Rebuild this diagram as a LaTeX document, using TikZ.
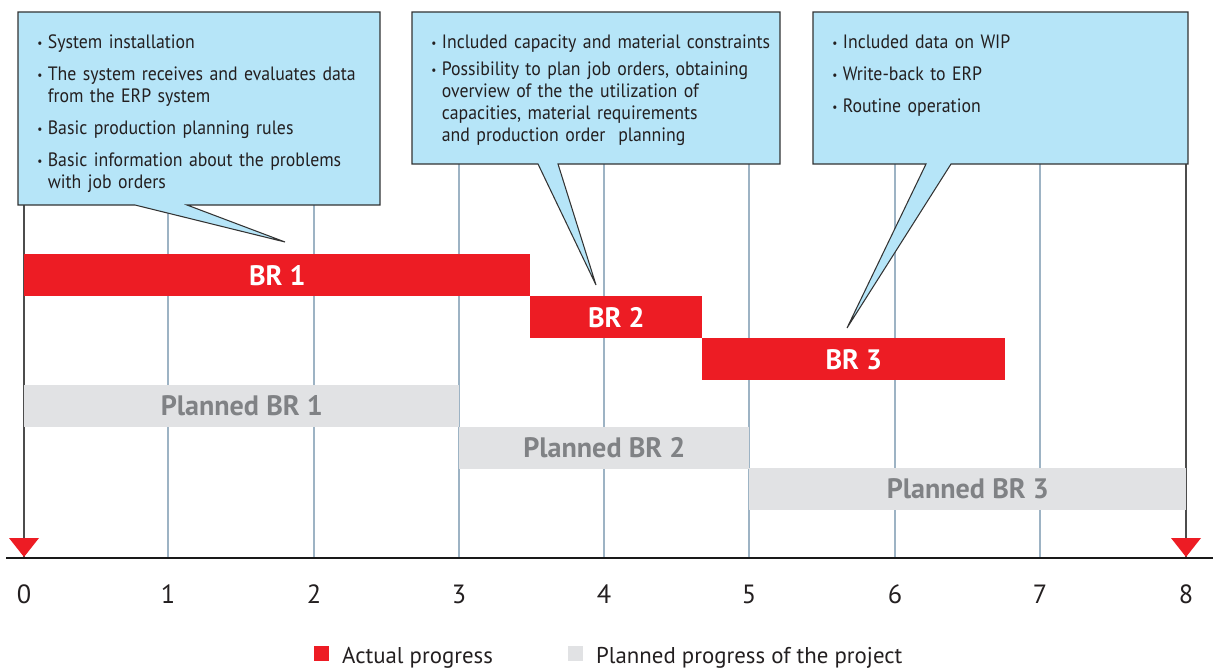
\documentclass[tikz,border=0pt]{standalone}
\usepackage{fontspec}
\setmainfont{PT Sans}
\newfontfamily\callfont[FakeStretch=0.92]{PT Sans}
\usepackage{tikz}
\usetikzlibrary{positioning}

\definecolor{brred}{HTML}{ED1C24}
\definecolor{plangray}{HTML}{E1E2E4}
\definecolor{plantext}{HTML}{808285}
\definecolor{calloutblue}{HTML}{B6E5F8}
\definecolor{gridblue}{HTML}{9DB3C4}
\definecolor{inkgray}{HTML}{231F20}

\newlength{\itemgap}
\newcommand{\bitem}[1]{\par\hangindent=0.21cm\hangafter=1\noindent\makebox[0.21cm][l]{\raisebox{0.5pt}{\scriptsize\textbullet}}#1\par}
\newcommand{\bgap}{\vspace{\itemgap}}

\tikzset{
  actual/.style={fill=brred, text=white, font=\bfseries\fontsize{16}{18}\selectfont, inner sep=0pt, anchor=north west, minimum height=0.84cm},
  planned/.style={fill=plangray, text=plantext, font=\bfseries\fontsize{16}{18}\selectfont, inner sep=0pt, anchor=north west, minimum height=0.83cm},
  callout/.style={draw=black!80, fill=calloutblue, line width=0.6pt, line join=miter},
  callouttext/.style={anchor=north west, inner sep=0pt, text width=8cm, text=inkgray, font=\callfont\fontsize{11}{12.5}\selectfont\raggedright},
  gridline/.style={draw=gridblue, line width=0.6pt},
  edgeline/.style={draw=black!70, line width=0.6pt},
  tick/.style={text=inkgray, font=\fontsize{15}{18}\selectfont},
  legend/.style={text=inkgray, font=\fontsize{13}{15}\selectfont, inner sep=0pt}
}

\begin{document}
\begin{tikzpicture}[x=0.02cm, y=-0.02cm]
\useasboundingbox (0,0) rectangle (1213,669);

% Grid
\draw[gridline] (168,12) -- (168,558);
\draw[gridline] (314,12) -- (314,558);
\draw[gridline] (459,12) -- (459,558);
\draw[gridline] (604,12) -- (604,558);
\draw[gridline] (749,12) -- (749,558);
\draw[gridline] (895,12) -- (895,558);
\draw[gridline] (1040,12) -- (1040,558);
\draw[edgeline] (24,205) -- (24,558);
\draw[edgeline] (1186,160) -- (1186,558);

% Actual progress
\node[actual, minimum width=10.12cm] (br1) at (24,254) {BR 1};
\node[actual, minimum width=3.44cm] (br2) at (530,296) {BR 2};
\node[actual, minimum width=6.06cm] (br3) at (702,338) {BR 3};

% Planned progress
\node[planned, minimum width=8.70cm] (plan1) at (24,385) {Planned BR 1};
\node[planned, minimum width=5.80cm] (plan2) at (459,427) {Planned BR 2};
\node[planned, minimum width=8.74cm] (plan3) at (749,468) {Planned BR 3};

% Time axis
\draw[black!90, line width=1.1pt] (6,558) -- (1213,558);
\fill[brred] (9,538) -- (39,538) -- (24,557) -- cycle;
\fill[brred] (1171,538) -- (1201,538) -- (1186,557) -- cycle;
\node[tick] (t0) at (24,594) {0};
\node[tick] (t1) at (168,594) {1};
\node[tick] (t2) at (314,594) {2};
\node[tick] (t3) at (459,594) {3};
\node[tick] (t4) at (604,594) {4};
\node[tick] (t5) at (749,594) {5};
\node[tick] (t6) at (895,594) {6};
\node[tick] (t7) at (1040,594) {7};
\node[tick] (t8) at (1186,594) {8};

% Callouts
\draw[callout] (18,12) -- (380,12) -- (380,205) -- (187,205) -- (285,242) -- (135,205) -- (18,205) -- cycle;
\node[callouttext] (c1) at (37,26) {\setlength{\itemgap}{5.7pt}%
\bitem{System installation}\bgap
\bitem{The system receives and evaluates data\newline from the ERP system}\bgap
\bitem{Basic production planning rules}\bgap
\bitem{Basic information about the problems\newline with job orders}};

\draw[callout] (412,12) -- (780,12) -- (780,164) -- (558,164) -- (596,285) -- (538,164) -- (412,164) -- cycle;
\node[callouttext] (c2) at (431,26) {\setlength{\itemgap}{2.9pt}%
\bitem{Included capacity and material constraints}\bgap
\bitem{Possibility to plan job orders, obtaining\newline overview of the the utilization of\newline capacities, material requirements\newline and production order\ \ planning}};

\draw[callout] (813,12) -- (1188,12) -- (1188,164) -- (951,164) -- (847,328) -- (926,164) -- (813,164) -- cycle;
\node[callouttext] (c3) at (832,26) {\setlength{\itemgap}{5.7pt}%
\bitem{Included data on WIP}\bgap
\bitem{Write-back to ERP}\bgap
\bitem{Routine operation}};

% Legend
\node[fill=brred, minimum size=0.3cm, inner sep=0pt] (keyact) at (321,653) {};
\node[legend, right=0.26cm of keyact, yshift=-3pt] (keyacttext) {Actual progress};
\node[fill=plangray, minimum size=0.3cm, inner sep=0pt] (keyplan) at (575,653) {};
\node[legend, right=0.26cm of keyplan, yshift=-3pt] (keyplantext) {Planned progress of the project};
\end{tikzpicture}
\end{document}
